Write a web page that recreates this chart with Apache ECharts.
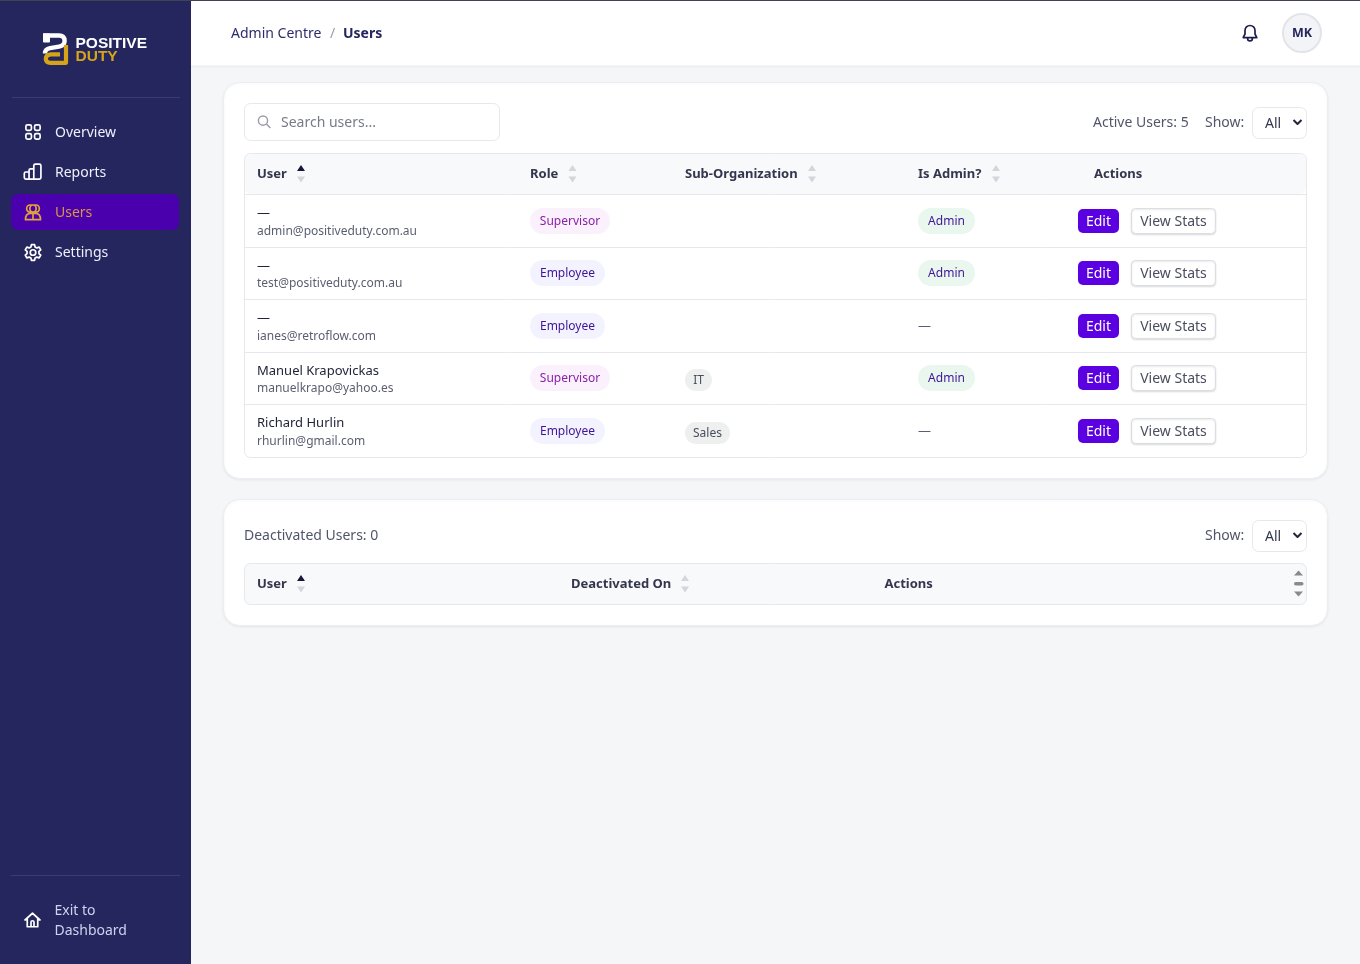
<!doctype html>
<html>
<head>
<meta charset="utf-8">
<title>Users</title>
<style>html,body{margin:0;padding:0;background:#f4f6f8}#main{width:1360px;height:964px}</style>
</head>
<body>
<div id="main"></div>
<script src="https://cdn.jsdelivr.net/npm/echarts@6/dist/echarts.min.js"></script>
<script>
var navLabels = ['Overview', 'Reports', 'Users', 'Settings'];
var activeHeaders = ['User', 'Role', 'Sub-Organization', 'Is Admin?', 'Actions'];
var deactivatedHeaders = ['User', 'Deactivated On', 'Actions'];
var userNames = ['—', '—', '—', 'Manuel Krapovickas', 'Richard Hurlin'];
var userEmails = ['admin@positiveduty.com.au', 'test@positiveduty.com.au', 'ianes@retroflow.com', 'manuelkrapo@yahoo.es', 'rhurlin@gmail.com'];
var userRoles = ['Supervisor', 'Employee', 'Employee', 'Supervisor', 'Employee'];
var userOrgs = ['', '', '', 'IT', 'Sales'];
var userAdmins = ['Admin', 'Admin', '—', 'Admin', '—'];

var FONT = '"Noto Sans"';
var els = [];
var shapeCount = 0;
var measure = document.createElement('canvas').getContext('2d');

function rect(x, y, w, h, r, fill, stroke, extra) {
    var style = { fill: fill || 'transparent', stroke: stroke || null, lineWidth: stroke ? 1 : 0 };
    for (var k in (extra || {})) style[k] = extra[k];
    els.push({ type: 'rect', shape: { x: x, y: y, width: w, height: h, r: r }, style: style, silent: true });
}
function text(x, y, str, size, color, weight, align, family) {
    els.push({
        type: 'text', silent: true,
        style: {
            x: x, y: y + 2, text: str, fill: color, textAlign: align || 'left', textVerticalAlign: 'middle',
            font: (weight || 'normal') + ' ' + size + 'px ' + (family || FONT)
        }
    });
}
function line(x1, y1, x2, y2, color) {
    els.push({ type: 'line', silent: true, shape: { x1: x1, y1: y1, x2: x2, y2: y2 }, style: { stroke: color, lineWidth: 1 } });
}
function tri(x, y, up, color, w, h) {
    w = w || 4; h = h || 6;
    var pts = up ? [[x - w, y + h / 2], [x + w, y + h / 2], [x, y - h / 2]] : [[x - w, y - h / 2], [x + w, y - h / 2], [x, y + h / 2]];
    els.push({ type: 'polygon', silent: true, shape: { points: pts }, style: { fill: color } });
}
// the graphic component has no plain 'path' type, so each svg path gets registered as a shape
function pathEl(d, x, y, scale, style) {
    var name = 'svgPath' + (shapeCount++);
    echarts.graphic.registerShape(name, echarts.graphic.extendPath(d, {}));
    els.push({ type: name, silent: true, x: x, y: y, scaleX: scale, scaleY: scale, style: style });
}
// icon drawn in a 24 unit box
function icon(d, x, y, size, color, lw) {
    var s = size / 24;
    pathEl(d, x - size / 2, y - size / 2, s, { fill: 'none', stroke: color, lineWidth: (lw || 1.6) / s, lineJoin: 'round', lineCap: 'round' });
}
function stroke(d, color, lw) {
    pathEl(d, 0, 0, 1, { fill: 'none', stroke: color, lineWidth: lw, lineJoin: 'round' });
}
function sortArrows(x, y, active) {
    tri(x, y - 5.5, true, active ? '#16163a' : '#d3d6dc');
    tri(x, y + 6, false, '#d3d6dc');
}
function pill(x, cy, h, pad, str, bg, color) {
    measure.font = '12px ' + FONT;
    var w = Math.round(measure.measureText(str).width) + pad * 2;
    rect(x, cy - h / 2, w, h, h / 2, bg);
    text(x + w / 2, cy - 1, str, 12, color, 'normal', 'center');
}
function select(x, y) {
    rect(x + 0.5, y + 0.5, 54, 31, 6, '#fff', '#e6e8ec');
    text(x + 13, y + 15, 'All', 14, '#33364d');
    stroke('M' + (x + 41.5) + ' ' + (y + 13) + 'l4 4l4 -4', '#23253f', 2);
}

// page frame
rect(0, 0, 1360, 964, 0, '#f4f6f8');
rect(191, 0, 1169, 65.5, 0, '#fff', null, { shadowBlur: 2, shadowColor: 'rgba(20,20,60,0.05)', shadowOffsetY: 1 });
rect(0, 0, 191, 964, 0, '#25265e');
rect(0, 0, 1360, 1, 0, '#3f4252');

// logo
stroke('M43 35.5H59Q64.6 35.5 64.6 41Q64.6 45.5 59 46.6L50 48.2Q45 49.2 45 53.5', '#ffffff', 4.4);
rect(43, 33.5, 7, 9, 1, '#ffffff');
stroke('M66 45V62.8H50.5Q45.8 62.8 45.8 58.8Q45.8 55 50.5 54.4H60', '#d6a419', 4.2);
text(75.5, 41.5, 'POSITIVE', 15.5, '#ffffff', 'bold', 'left', '"Liberation Sans"');
text(75.5, 55, 'DUTY', 15.5, '#d6a419', 'bold', 'left', '"Liberation Sans"');
line(12, 97.5, 180, 97.5, '#3a3c72');

// navigation
var navIcons = [
    'M5 3h3a2 2 0 0 1 2 2v3a2 2 0 0 1 -2 2h-3a2 2 0 0 1 -2 -2v-3a2 2 0 0 1 2 -2zM16 3h3a2 2 0 0 1 2 2v3a2 2 0 0 1 -2 2h-3a2 2 0 0 1 -2 -2v-3a2 2 0 0 1 2 -2zM5 14h3a2 2 0 0 1 2 2v3a2 2 0 0 1 -2 2h-3a2 2 0 0 1 -2 -2v-3a2 2 0 0 1 2 -2zM16 14h3a2 2 0 0 1 2 2v3a2 2 0 0 1 -2 2h-3a2 2 0 0 1 -2 -2v-3a2 2 0 0 1 2 -2z',
    'M3 12h4v9h-4a2 2 0 0 1 -2 -2v-5a2 2 0 0 1 2 -2zM9 8h4v13h-6v-11a2 2 0 0 1 2 -2zM15 2h5a2 2 0 0 1 2 2v15a2 2 0 0 1 -2 2h-7v-17a2 2 0 0 1 2 -2z',
    'M8 2.5h8a4 4.5 0 0 1 0 9h-8a4 4.5 0 0 1 0 -9zM12 2.5a4 4.5 0 0 1 0 9a4 4.5 0 0 1 0 -9M2.5 21c0 -5 2.5 -8 6.5 -8h6c4 0 6.5 3 6.5 8zM12 13v8',
    'M12 8.5a3.5 3.5 0 1 0 0 7a3.5 3.5 0 1 0 0 -7zM10 2h4l.6 3l2.2 1.2l3 -1l2 3.5l-2.3 2v2.6l2.3 2l-2 3.5l-3 -1l-2.2 1.2l-.6 3h-4l-.6 -3l-2.2 -1.2l-3 1l-2 -3.5l2.3 -2v-2.6l-2.3 -2l2 -3.5l3 1l2.2 -1.2z'
];
rect(11, 194, 168, 36, 7, '#4a00ad');
navLabels.forEach(function (label, i) {
    var y = 132 + i * 40;
    var active = label === 'Users';
    icon(navIcons[i], 33, y + (i > 1 ? 0.5 : 0), 19, active ? '#e0a33a' : '#ffffff', 1.7);
    text(55, y - 1, label, 14, active ? '#d9973f' : '#eef0fa');
});
line(11, 875.5, 180, 875.5, '#3a3c72');
icon('M2 12L12 3l10 9M5 10v11h14v-11M10 21v-6a2 2 0 0 1 4 0v6', 32.5, 920, 18, '#ffffff', 1.7);
text(54.5, 909, 'Exit to', 14, '#cfd2ee');
text(54.5, 929, 'Dashboard', 14, '#cfd2ee');

// top bar
text(231, 32, 'Admin Centre', 14, '#2b2c6b');
text(330, 32, '/', 14, '#9a9cab');
text(343, 32, 'Users', 14, '#25265e', 'bold');
stroke('M1250 25.5a5 5 0 0 0 -5 5v3.5l-1.8 3.6h13.6l-1.8 -3.6v-3.5a5 5 0 0 0 -5 -5zM1247.6 38v.5a2.4 2.4 0 0 0 4.8 0v-.5', '#1c1d4d', 1.7);
rect(1283, 14, 38, 38, 19, '#f3f4f7', '#e3e4ea', { lineWidth: 2 });
text(1302, 31.5, 'MK', 12.5, '#25265e', 'bold', 'center');

// active users card
rect(223.5, 82.5, 1104, 396, 16, '#fff', '#eceef1', { shadowBlur: 3, shadowColor: 'rgba(20,20,60,0.06)', shadowOffsetY: 1 });
rect(244.5, 103.5, 255, 37, 6, '#fff', '#e6e8ec');
stroke('M263 116a4.6 4.6 0 1 0 0 9.2a4.6 4.6 0 1 0 0 -9.2zM266.4 124l4 4', '#9a9ca8', 1.4);
text(281, 121, 'Search users...', 14, '#777a88');
text(1093, 121, 'Active Users: 5', 14, '#52556a');
text(1205, 121, 'Show:', 14, '#52556a');
select(1252, 107);

// active table
var colX = [257, 530, 685, 918];
var rowY = [194, 247, 299, 352, 404, 457];
rect(244.5, 153.5, 1062, 304, 6, '#fff', '#e6e8ec');
rect(245, 154, 1061, 40, 6, '#f8f9fb');
line(245, 194.5, 1306, 194.5, '#e6e8ec');
var headerSort = [301, 572.5, 812, 996];
activeHeaders.forEach(function (h, i) {
    text(i < 4 ? colX[i] : 1094, 172.5, h, 13, '#33364d', 'bold');
    if (i < 4) sortArrows(headerSort[i], 173.5, i === 0);
});
userNames.forEach(function (name, i) {
    var top = rowY[i], mid = Math.ceil((rowY[i] + rowY[i + 1]) / 2);
    if (i > 0) line(245, top + 0.5, 1306, top + 0.5, '#e6e8ec');
    text(257, top + 17, name, 13, '#22243a');
    text(257, top + 35 + (i % 2 === 0 ? 1 : 0), userEmails[i], 12, '#5b5e70');
    var roleSup = userRoles[i] === 'Supervisor';
    pill(530, mid, 26, 10, userRoles[i], roleSup ? '#fbf1fd' : '#f2f3fe', roleSup ? '#8a1fa8' : '#3f1496');
    if (userOrgs[i]) pill(685, mid + 2, 22, 8, userOrgs[i], '#edf0ee', '#4a4f5c');
    if (userAdmins[i] === 'Admin') {
        pill(918, mid, 26, 10, userAdmins[i], '#e9f7ee', '#3f1496');
    } else {
        text(918, mid - 2, userAdmins[i], 13, '#5b5e70');
    }
    rect(1078, mid - 12, 41, 24, 5, '#5b00e0');
    text(1098.5, mid - 1, 'Edit', 14, '#ffffff', 'normal', 'center');
    rect(1131.5, mid - 12.5, 84, 25, 4, '#fff', '#dcdee3', { shadowBlur: 2, shadowColor: 'rgba(0,0,0,0.12)', shadowOffsetY: 1 });
    text(1173.5, mid - 1, 'View Stats', 14, '#4a4d60', 'normal', 'center');
});

// deactivated users card
rect(223.5, 499.5, 1104, 126, 16, '#fff', '#eceef1', { shadowBlur: 3, shadowColor: 'rgba(20,20,60,0.06)', shadowOffsetY: 1 });
text(244, 534, 'Deactivated Users: 0', 14, '#52556a');
text(1205, 534, 'Show:', 14, '#52556a');
select(1252, 520);
rect(244.5, 563.5, 1062, 41, 6, '#f8f9fb', '#e6e8ec');
var deactX = [257, 571, 884.5];
deactivatedHeaders.forEach(function (h, i) {
    text(deactX[i], 582.5, h, 13, '#33364d', 'bold');
});
sortArrows(301, 583.5, true);
sortArrows(685, 583.5, false);
tri(1298.5, 573, true, '#8a8a8a', 4.5, 5);
rect(1294, 582, 9.5, 3.5, 1.7, '#8a8a8a');
tri(1298.5, 594, false, '#8a8a8a', 4.5, 5);

var chart = echarts.init(document.getElementById('main'));
chart.setOption({ animation: false, graphic: { elements: els } });
</script>
</body>
</html>
